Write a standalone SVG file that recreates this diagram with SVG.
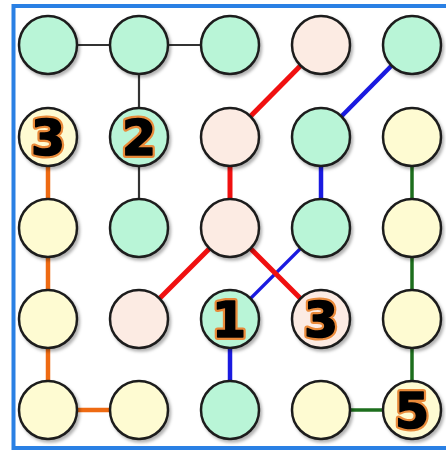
<svg xmlns="http://www.w3.org/2000/svg" width="446" height="451" viewBox="0 0 446 451">
<style>
.n{stroke:#1e1e1e;stroke-width:2.5;filter:url(#sh)}
.g{fill:#b9f5d7}
.p{fill:#fcebe3}
.y{fill:#fefbd2}
.k{stroke:#333;stroke-width:2.2}
.r{stroke:#f01010;stroke-width:5}
.b{stroke:#1a1ae0;stroke-width:4.5}
.b2{stroke:#1a1ae0;stroke-width:3.2}
.o{stroke:#ee6a12;stroke-width:4.5}
.e{stroke:#1d6e1d;stroke-width:3.5}
.t{font-family:"DejaVu Sans",sans-serif;font-weight:bold;font-size:49px;text-anchor:middle;fill:#000;stroke:#000;stroke-width:1.6;stroke-linejoin:round}
.h{fill:#d8641a;stroke:#e98a3a;stroke-width:6}
</style>
<defs>
<filter id="sh" x="-20%" y="-20%" width="150%" height="150%">
<feDropShadow dx="2" dy="2.5" stdDeviation="1.8" flood-color="#000" flood-opacity="0.3"/>
</filter>
</defs>
<rect x="0" y="0" width="446" height="451" fill="#fff"/>
<rect x="13.5" y="6" width="445" height="442" fill="none" stroke="#2a80e4" stroke-width="4"/>
<g id="connectors" fill="none">
<line class="k" x1="48" y1="45" x2="139" y2="45"/>
<line class="k" x1="139" y1="45" x2="230" y2="45"/>
<line class="k" x1="139" y1="45" x2="139" y2="137"/>
<line class="k" x1="139" y1="137" x2="139" y2="228"/>
<line class="r" x1="321" y1="45" x2="230" y2="137"/>
<line class="r" x1="230" y1="137" x2="230" y2="228"/>
<line class="r" x1="230" y1="228" x2="139" y2="319"/>
<line class="b" x1="412" y1="45" x2="321" y2="137"/>
<line class="b" x1="321" y1="137" x2="321" y2="228"/>
<line class="b2" x1="321" y1="228" x2="230" y2="319"/>
<line class="r" x1="230" y1="228" x2="321" y2="319"/>
<line class="b" x1="230" y1="319" x2="230" y2="410"/>
<line class="o" x1="48" y1="137" x2="48" y2="228"/>
<line class="o" x1="48" y1="228" x2="48" y2="319"/>
<line class="o" x1="48" y1="319" x2="48" y2="410"/>
<line class="o" x1="48" y1="410" x2="139" y2="410"/>
<line class="e" x1="412" y1="137" x2="412" y2="228"/>
<line class="e" x1="412" y1="228" x2="412" y2="319"/>
<line class="e" x1="412" y1="319" x2="412" y2="410"/>
<line class="e" x1="412" y1="410" x2="321" y2="410"/>
</g>
<g id="n11"><circle class="n g" cx="48" cy="45" r="29"/></g>
<g id="n12"><circle class="n g" cx="139" cy="45" r="29"/></g>
<g id="n13"><circle class="n g" cx="230" cy="45" r="29"/></g>
<g id="n14"><circle class="n p" cx="321" cy="45" r="29"/></g>
<g id="n15"><circle class="n g" cx="412" cy="45" r="29"/></g>
<g id="n21"><circle class="n y" cx="48" cy="137" r="29"/><text class="t h" x="48" y="155">3</text><text class="t" x="48" y="155">3</text></g>
<g id="n22"><circle class="n g" cx="139" cy="137" r="29"/><text class="t h" x="139" y="155">2</text><text class="t" x="139" y="155">2</text></g>
<g id="n23"><circle class="n p" cx="230" cy="137" r="29"/></g>
<g id="n24"><circle class="n g" cx="321" cy="137" r="29"/></g>
<g id="n25"><circle class="n y" cx="412" cy="137" r="29"/></g>
<g id="n31"><circle class="n y" cx="48" cy="228" r="29"/></g>
<g id="n32"><circle class="n g" cx="139" cy="228" r="29"/></g>
<g id="n33"><circle class="n p" cx="230" cy="228" r="29"/></g>
<g id="n34"><circle class="n g" cx="321" cy="228" r="29"/></g>
<g id="n35"><circle class="n y" cx="412" cy="228" r="29"/></g>
<g id="n41"><circle class="n y" cx="48" cy="319" r="29"/></g>
<g id="n42"><circle class="n p" cx="139" cy="319" r="29"/></g>
<g id="n43"><circle class="n g" cx="230" cy="319" r="29"/><text class="t h" x="229" y="337">1</text><text class="t" x="229" y="337">1</text></g>
<g id="n44"><circle class="n p" cx="321" cy="319" r="29"/><text class="t h" x="321" y="337">3</text><text class="t" x="321" y="337">3</text></g>
<g id="n45"><circle class="n y" cx="412" cy="319" r="29"/></g>
<g id="n51"><circle class="n y" cx="48" cy="410" r="29"/></g>
<g id="n52"><circle class="n y" cx="139" cy="410" r="29"/></g>
<g id="n53"><circle class="n g" cx="230" cy="410" r="29"/></g>
<g id="n54"><circle class="n y" cx="321" cy="410" r="29"/></g>
<g id="n55"><circle class="n y" cx="412" cy="410" r="29"/><text class="t h" x="412" y="428">5</text><text class="t" x="412" y="428">5</text></g>
</svg>
